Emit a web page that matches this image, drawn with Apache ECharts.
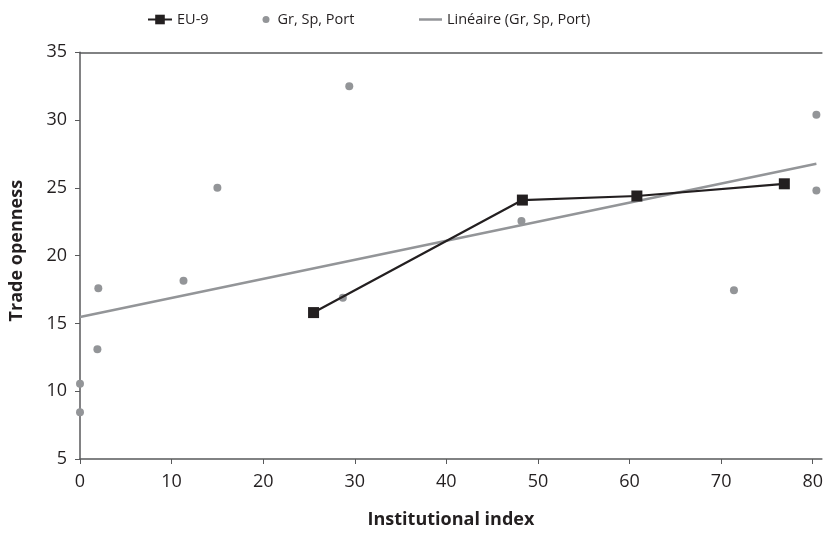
<!DOCTYPE html>
<html>
<head>
<meta charset="utf-8">
<script src="https://cdn.jsdelivr.net/npm/echarts@6/dist/echarts.min.js"></script>
<style>
html,body{margin:0;padding:0;background:#fff;}
#chart{width:826px;height:534px;}
</style>
</head>
<body>
<div id="chart"></div>
<script>
// Data
const eu9X = [25.5, 48.3, 60.8, 76.9];
const eu9Y = [15.8, 24.1, 24.4, 25.3];
const grX = [0, 0, 1.9, 2.0, 11.3, 15.0, 28.7, 29.4, 48.2, 71.4, 80.4, 80.4];
const grY = [10.55, 8.45, 13.1, 17.6, 18.15, 25.0, 16.9, 32.5, 22.55, 17.45, 30.4, 24.8];
const trendX = [0, 80.4];
const trendY = [15.48, 26.78];
const xTicks = [0, 10, 20, 30, 40, 50, 60, 70, 80];
const yTicks = [5, 10, 15, 20, 25, 30, 35];
const seriesNames = ['EU-9', 'Gr, Sp, Port', 'Linéaire (Gr, Sp, Port)'];
const axisTitles = { x: 'Institutional index', y: 'Trade openness' };

const zip = (xs, ys) => xs.map((x, i) => [x, ys[i]]);
const axisColor = '#58595b';
const font = 'Open Sans';
const textColor = '#231f20';

const chart = echarts.init(document.getElementById('chart'), null, { renderer: 'canvas' });
chart.setOption({
  animation: false,
  backgroundColor: '#ffffff',
  grid: { left: 78.6, top: 52.3, bottom: 70.7, right: 1.4, containLabel: false },
  legend: [
    { data: [seriesNames[0]], left: 142, top: 7, itemWidth: 24, itemHeight: 12,
      textStyle: { fontFamily: font, fontSize: 14.5, color: textColor } },
    { data: [seriesNames[1]], left: 257.5, top: 7, itemWidth: 7, itemHeight: 7, icon: 'circle',
      textStyle: { fontFamily: font, fontSize: 14.5, color: textColor, padding: [0, 0, 0, 3] } },
    { data: [seriesNames[2]], left: 414, top: 7, itemWidth: 23, itemHeight: 2.5, icon: 'rect',
      textStyle: { fontFamily: font, fontSize: 14.5, color: textColor } }
  ],
  xAxis: [{
    type: 'value', min: xTicks[0], max: 81, interval: 10,
    name: axisTitles.x, nameLocation: 'middle', nameGap: 52,
    nameTextStyle: { fontFamily: font, fontSize: 18, fontWeight: 'bold', color: textColor },
    axisLine: { show: true, lineStyle: { color: axisColor, width: 1.5 } },
    axisTick: { show: true, length: 5, lineStyle: { color: axisColor } },
    axisLabel: { fontFamily: font, fontSize: 18, color: textColor, margin: 14, showMaxLabel: false,
      formatter: v => (xTicks.indexOf(v) >= 0 ? String(v) : '') },
    splitLine: { show: false }
  }, {
    type: 'value', position: 'top', min: xTicks[0], max: 81,
    axisLine: { show: true, onZero: false, lineStyle: { color: axisColor, width: 1.5 } },
    axisTick: { show: false }, axisLabel: { show: false }, splitLine: { show: false }
  }],
  yAxis: {
    type: 'value', min: yTicks[0], max: yTicks[yTicks.length - 1], interval: 5,
    name: axisTitles.y, nameLocation: 'middle', nameGap: 54,
    nameTextStyle: { fontFamily: font, fontSize: 18, fontWeight: 'bold', color: textColor, padding: [0, 0, 0, 10] },
    axisLine: { show: true, lineStyle: { color: axisColor, width: 1.5 } },
    axisTick: { show: true, length: 5, lineStyle: { color: axisColor } },
    axisLabel: { fontFamily: font, fontSize: 18, color: textColor, margin: 13 },
    splitLine: { show: false }
  },
  series: [
    { name: seriesNames[2], type: 'line', data: zip(trendX, trendY), symbol: 'none',
      lineStyle: { color: '#939598', width: 2.5 }, itemStyle: { color: '#939598' }, z: 2 },
    { name: seriesNames[1], type: 'scatter', data: zip(grX, grY), symbol: 'circle', symbolSize: 8,
      itemStyle: { color: '#939598', opacity: 1 }, z: 3 },
    { name: seriesNames[0], type: 'line', data: zip(eu9X, eu9Y), symbol: 'rect', symbolSize: 11,
      showAllSymbol: true,
      lineStyle: { color: textColor, width: 2.2 }, itemStyle: { color: textColor }, z: 4 }
  ]
});
</script>
</body>
</html>
